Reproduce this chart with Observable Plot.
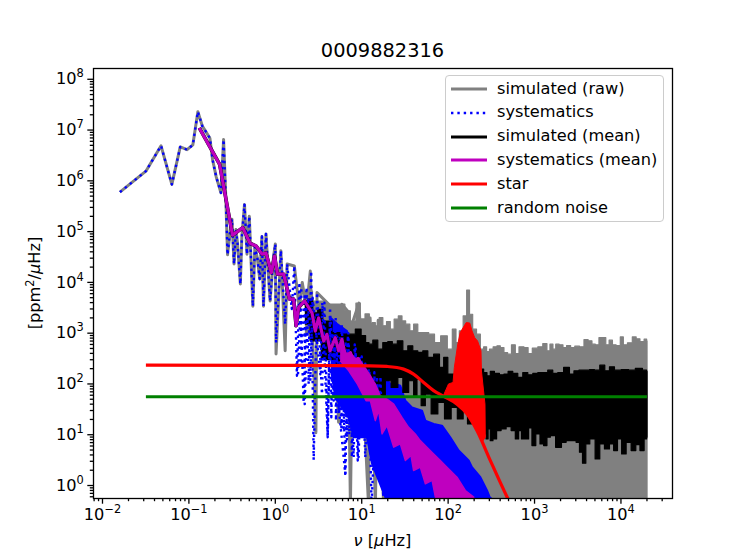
<!DOCTYPE html>
<html><head><meta charset="utf-8">
<script src="https://cdn.jsdelivr.net/npm/d3@7"></script>
<script src="https://cdn.jsdelivr.net/npm/@observablehq/plot@0.6"></script>
<style>
html,body{margin:0;padding:0;background:#fff}
#wrap{position:relative;width:747px;height:560px;font-family:"DejaVu Sans",sans-serif;color:#000;overflow:hidden}
#legend{position:absolute;left:445px;top:75px;width:219px;height:147px;box-sizing:border-box;background:rgba(255,255,255,.8);border:1.3px solid #ccc;border-radius:4px;font-size:16.2px}
#legend div{position:absolute;left:51px;white-space:nowrap;line-height:20px}
#legend svg{position:absolute;left:5px}
</style></head><body><div id="wrap"></div>
<script>
const title = "0009882316";
const xDecades = [1e-2,1e-1,1e0,1e1,1e2,1e3,1e4];
const xTickLabels = ["-2","-1","0","1","2","3","4"];
const yDecades = [1e0,1e1,1e2,1e3,1e4,1e5,1e6,1e7,1e8];
const yTickLabels = ["0","1","2","3","4","5","6","7","8"];

// low-frequency spectrum (raw and systematics coincide here)
const lowNu = [0.0159,0.0318,0.0476,0.0635,0.0794,0.0953,0.111,0.127,0.143,0.159,0.175,0.188,0.207,0.235,0.252,0.267,0.28,0.30,0.315,0.333,0.35,0.365,0.394,0.41,0.44,0.47,0.50,0.55,0.58,0.62,0.66,0.70,0.73,0.78,0.87,0.95,1.0];
const lowP  = [6e5,1.55e6,4.9e6,8.5e5,4.65e6,4.1e6,5.1e6,2.3e7,1.2e7,9e6,6.9e6,2.6e6,1.2e6,5.8e5,6.5e6,5e5,3.5e4,1e5,1.76e5,2.3e4,1.1e5,6e4,9.3e3,8e4,3.4e5,3.6e4,2e5,3.4e3,5e4,3e4,1.17e4,8e4,3.4e3,9e4,4.3e3,3e4,5.7e4];

// raw spikes above 1 µHz
const rawSpikeNu = [1.02,1.16,1.3,1.37,1.66,1.9,2.05,2.3,2.54,2.95,3.04,4.53,5.4,5.9,6.9,7.4,7.9,9.3,12,12.5,14.4,15.5,17.9,18.7];
const rawSpikeP  = [390,4.2e4,450,2.3e4,2.1e4,3e3,1e4,3e3,1.67e4,11,6.3e3,3.2e3,17.6,3.7e3,2.7e3,0.4,1.7e3,3.9e3,0.4,2e3,0.4,1.8e3,0.4,1.4e3];
// systematics spikes above 1 µHz
const sysSpikeNu = [1.02,1.16,1.3,1.37,1.55,1.66,1.78,1.9,2.13,2.3,2.43,2.6,2.78,3.04,3.47,3.7,4.04,4.3,4.7,5,5.4,5.9,6.45,7,7.7,8.3,9,9.5,10,11,13,14,15,16.5,17.9];
const sysSpikeP  = [650,4.2e4,1500,2.3e4,3e3,2.1e4,145,1e4,43,8e3,100,1.67e4,3.2,6.3e3,63,4e3,8.9,3.2e3,54,2e3,26,1500,1.7,1000,12,600,3.1,358,8.9,250,3.6,170,1.7,140,0.4];
const sysSpike2Nu = [1.83,2.0,1.98,2.2,2.19,2.4,2.54,2.7,3.32,3.5,4.04,4.3,6.45,6.9,8.07,8.5,9.2,10,11,12,13,15,18];
const sysSpike2P  = [155,8e3,288,6e3,40,5e3,115,5e3,155,4e3,8.9,2e3,1.7,900,3.6,500,3.6,350,3.6,200,0.4,140,0.4];
const sysSpike3Nu = [4.14,4.3,4.45,4.6,4.73,4.9,5.04,5.2,5.41,5.6,5.81,6,6.18,6.5,6.75,7,7.2,7.5,7.7,8];
const sysSpike3P  = [54,1000,22,1000,47,1000,19,900,35,800,14,800,12,700,7.7,500,10,400,3.6,350];

// raw upper edge, read as log10 of frequency and power
const rawHiLogNu = [0.342,0.519,0.656,0.771,0.839,0.898,0.968,1.0,1.076,1.10,1.138,1.177,1.227,1.262,1.312,1.35,1.4,1.447,1.485,1.532,1.582,1.62,1.678,1.736,1.814,1.871,1.956,2.025,2.072,2.11,2.149,2.199,2.23,2.265,2.303,2.354,2.392,2.43,2.461,2.496,2.546,2.584,2.623,2.669,2.708,2.758,2.797,2.843,2.912,2.939,3.009,3.067,3.124,3.163,3.194,3.232,3.259,3.31,3.348,3.394,3.441,3.491,3.549,3.595,3.645,3.684,3.722,3.769,3.811,3.838,3.888,3.915,3.973,4.012,4.043,4.108,4.155,4.197,4.243,4.293,4.302];
const rawHiLogP  = [3.83,3.63,3.575,3.575,3.44,3.24,3.59,3.28,3.38,3.19,3.209,3.144,3.308,3.144,3.229,3.078,3.275,3.34,3.242,3.177,3.046,3.177,3.013,3.013,2.98,2.816,2.947,2.685,3.078,2.816,3.046,3.34,3.85,3.373,3.078,2.98,2.685,2.731,2.639,2.685,2.731,2.75,2.718,2.619,2.587,2.77,2.6,2.731,2.718,2.6,2.705,2.731,2.796,2.652,2.783,2.685,2.783,2.77,2.718,2.757,2.718,2.744,2.731,2.875,2.849,2.783,2.77,2.914,2.914,2.77,2.862,2.77,2.757,2.927,2.77,2.809,2.927,2.888,2.835,2.881,2.85];
const rawLoLogNu = [0.342,0.778,0.954,1.146,1.255,1.342,4.302];
const rawLoLogP  = [3,2.48,2.18,1.3,0.48,-0.4,-0.4];

// simulated-mean edges
const meanHiLogNu = [0.342,0.405,0.462,0.519,0.58,0.733,0.81,0.888,0.964,1.022,1.068,1.10,1.157,1.215,1.273,1.331,1.377,1.447,1.505,1.562,1.62,1.678,1.736,1.794,1.871,1.929,1.968,2.025,2.392,2.43,2.469,2.507,2.565,2.623,2.669,2.719,2.777,2.835,2.893,2.951,3.009,3.067,3.124,3.182,3.24,3.298,3.375,3.433,3.479,3.549,3.607,3.665,3.722,3.788,3.838,3.896,3.954,4.05,4.128,4.205,4.293,4.302];
const meanHiLogP  = [3.63,3.67,3.4,3.47,3.24,3.01,2.98,2.98,3.08,2.95,2.815,2.784,2.862,2.685,2.816,2.836,2.784,2.849,2.653,2.751,2.653,2.62,2.653,2.522,2.587,2.325,2.522,2.194,2.293,2.226,2.161,2.246,2.207,2.181,2.194,2.246,2.207,2.128,2.226,2.181,2.207,2.226,2.226,2.272,2.207,2.226,2.325,2.194,2.259,2.272,2.272,2.285,2.272,2.37,2.259,2.338,2.272,2.285,2.272,2.305,2.272,2.25];
const meanLoLogNu = [0.342,0.462,0.6,0.77,0.9,0.96,1.07,1.15,1.254,1.292,1.389,1.447,1.505,1.582,1.62,1.659,1.717,1.755,1.852,1.91,2.006,2.064,2.149,2.199,2.249,2.296,2.43,2.449,2.476,2.499,2.538,2.584,2.642,2.7,2.758,2.797,2.835,2.862,2.912,2.951,2.989,3.04,3.086,3.124,3.163,3.202,3.286,3.337,3.394,3.452,3.51,3.53,3.58,3.607,3.672,3.73,3.78,3.838,3.896,3.935,3.985,4.031,4.089,4.147,4.197,4.243,4.293,4.302];
const meanLoLogP  = [3.18,2.85,2.48,2.4,2.48,2.4,2.25,2.0,1.769,2.063,1.932,2.129,1.834,2.063,1.769,2.096,1.572,1.801,1.408,1.638,1.31,1.539,1.31,1.474,1.212,1.408,1.015,0.917,1.113,0.884,0.917,1.081,1.113,1.159,1.081,0.917,1.081,0.917,0.917,1.133,0.786,1.015,0.819,0.786,0.95,0.982,0.753,0.851,0.884,0.884,0.851,0.655,0.439,0.819,0.917,0.524,0.819,0.72,0.819,0.688,0.917,0.622,0.851,0.688,0.806,0.688,0.917,0.95];

// systematics band edges
const sysHiLogNu = [0.643,0.70,0.83,0.87,0.914,0.96,1.004,1.053,1.119,1.177,1.235,1.292,1.331,1.389,1.447,1.505,1.582,1.698,1.736,1.833,1.929,2.025,2.122,2.238,2.276,2.373,2.45,2.481,2.6];
const sysHiLogP  = [3.3,3.2,3.04,2.75,2.89,2.55,2.65,2.38,2.325,2.292,2.063,2.096,1.998,1.998,1.965,1.67,1.539,1.474,1.277,1.212,1.179,0.95,0.688,0.492,0.361,0.164,-0.098,-0.229,-0.4];
const sysLoLogNu = [0.643,0.694,0.849,0.907,1.06,1.12,1.273,1.33,2.6];
const sysLoLogP  = [2.3,1.736,1.343,0.95,0.95,0.426,-0.23,-0.4,-0.4];

// systematics-mean band edges
const sysBandHiLogNu = [0.75,0.82,0.87,0.924,0.96,1.10,1.157,1.215,1.292,1.37,1.466,1.543,1.62,1.678,1.755,1.833,1.91,1.987,2.103,2.199,2.296];
const sysBandHiLogP  = [2.85,2.6,2.62,2.5,2.52,2.162,1.998,1.769,1.703,1.605,1.343,1.146,1.015,0.885,0.754,0.623,0.492,0.361,0.164,-0.098,-0.229];
const sysBandLoLogNu = [0.75,0.85,0.95,1.05,1.10,1.157,1.196,1.235,1.292,1.37,1.447,1.505,1.57,1.6,1.678,1.736,1.814,1.852,1.929,2.296];
const sysBandLoLogP  = [2.456,2.26,1.998,1.67,1.67,1.277,1.474,1.015,1.179,0.754,0.819,0.492,0.59,0.295,0.361,0.033,0.099,-0.229,-0.4,-0.4];

// systematics mean, low frequencies
const sysMeanNu = [0.132,0.227,0.32,0.42,0.51,0.6,0.7,0.78,0.9,0.98,1.06,1.25,1.46,1.63,1.74,1.86,2.18,2.66,2.9,3.17,3.63,3.96,4.3,4.94,5.4,5.9,6.6,7.4,8.4,9.2];
const sysMeanP  = [1.1e7,2.1e6,8.5e4,1.2e5,5.9e4,5.2e4,3.6e4,3.8e4,1.55e4,3.3e4,1.45e4,1.45e4,4.7e3,4.7e3,1.4e3,3.2e3,4.3e3,2.5e3,1.1e3,2e3,700,950,450,815,450,760,310,415,180,330];

// star background
const starNu = [0.0318,1,12.6,19.6,30.5,39.8,52,68,89,127,166,216,308,484,560];
const starP  = [235,232,228,221,196,156,107,74,57,40,25.6,12,3.1,0.58,0.35];
// star oscillation hump
const humpNu = [89,95,101,114,118,129,138,162,178,189,203,219,240,243,257,267,269];
const humpP  = [61,79,100,107,211,590,1030,1620,1580,1110,815,705,450,180,73,40,8.9];
const humpBackNu = [255,216,166,127,89];
const humpBackP  = [7.7,12,25.6,40,57];
// noise
const noiseNu = [0.0318,20000];
const noiseP  = [56,56];

const pts = (a,b)=>a.map((x,i)=>({x,y:b[i]}));
const lg10 = (a,b)=>a.map((x,i)=>({x:10**x,y:10**b[i]}));
const bandLog = (nh,ph,nl,pl)=>lg10(nh,ph).concat(lg10(nl,pl).reverse());
const xMinor = xDecades.concat([1e-3,1e5]).flatMap(d=>[2,3,4,5,6,7,8,9].map(k=>k*d)).filter(v=>v>0.00787&&v<39500);
const yMinor = [1e-1].concat(yDecades).flatMap(d=>[2,3,4,5,6,7,8,9].map(k=>k*d)).filter(v=>v>0.555&&v<1.63e8);

const ls={clip:true,strokeLinecap:"butt",strokeLinejoin:"round"};
const gray="#808080", blue="#0000ff", magenta="#bf00bf", red="#ff0000", green="#008000";
const dots="2.4 3.96";
const axisCommon={tickSize:5.7,tickPadding:4,fontSize:16.2,strokeWidth:1.3,label:null};
const dotted={x:"x",y:"y",stroke:blue,strokeWidth:2.4,strokeDasharray:dots,...ls};

const chart = Plot.plot({
  width:747,height:560,marginLeft:93,marginRight:75,marginTop:68,marginBottom:62,
  style:{fontFamily:"DejaVu Sans",color:"#000",background:"#fff"},
  x:{type:"log",domain:[0.00787,39500],axis:null},
  y:{type:"log",domain:[0.555,1.63e8],axis:null},
  marks:[
    Plot.line(bandLog(rawHiLogNu,rawHiLogP,rawLoLogNu,rawLoLogP),{x:"x",y:"y",fill:gray,stroke:gray,strokeWidth:1.2,curve:"step",...ls}),
    Plot.line(pts(lowNu.concat(rawSpikeNu),lowP.concat(rawSpikeP)),{x:"x",y:"y",stroke:gray,strokeWidth:3,...ls}),
    Plot.line(bandLog(sysHiLogNu,sysHiLogP,sysLoLogNu,sysLoLogP),{x:"x",y:"y",fill:blue,stroke:blue,strokeWidth:2,...ls}),
    Plot.line(bandLog(meanHiLogNu,meanHiLogP,meanLoLogNu,meanLoLogP),{x:"x",y:"y",fill:"#000",stroke:"#000",strokeWidth:1.2,curve:"step",...ls}),
    Plot.line(pts(lowNu.concat(sysSpikeNu),lowP.concat(sysSpikeP)),dotted),
    Plot.line(pts(sysSpike2Nu,sysSpike2P),dotted),
    Plot.line(pts(sysSpike3Nu,sysSpike3P),dotted),
    Plot.line(pts(sysMeanNu,sysMeanP),{x:"x",y:"y",stroke:"#000",strokeWidth:3.6,...ls}),
    Plot.line(bandLog(sysBandHiLogNu,sysBandHiLogP,sysBandLoLogNu,sysBandLoLogP),{x:"x",y:"y",fill:magenta,stroke:magenta,strokeWidth:1.4,...ls}),
    Plot.line(pts(sysMeanNu,sysMeanP),{x:"x",y:"y",stroke:magenta,strokeWidth:3.2,...ls}),
    Plot.line(pts(humpNu.concat(humpBackNu),humpP.concat(humpBackP)),{x:"x",y:"y",fill:red,stroke:red,strokeWidth:1,...ls}),
    Plot.line(pts(starNu,starP),{x:"x",y:"y",stroke:red,strokeWidth:3.2,curve:"monotone-x",...ls}),
    Plot.line(pts(noiseNu,noiseP),{x:"x",y:"y",stroke:green,strokeWidth:3.2,...ls}),
    Plot.frame({stroke:"#000",strokeWidth:1.3}),
    Plot.axisX({...axisCommon,ticks:xDecades,tickFormat:d=>"10^"+xTickLabels[xDecades.indexOf(d)]}),
    Plot.axisX({...axisCommon,ticks:xMinor,tickSize:3.2,tickFormat:()=>""}),
    Plot.axisY({...axisCommon,ticks:yDecades,tickFormat:d=>"10^"+yTickLabels[yDecades.indexOf(d)]}),
    Plot.axisY({...axisCommon,ticks:yMinor,tickSize:3.2,tickFormat:()=>""})
  ]
});
const wrap=document.getElementById("wrap");
wrap.appendChild(chart);
const svg=d3.select(chart);
// true superscripts on the decade tick labels
svg.selectAll("text").each(function(){
  const t=this.textContent;
  if(!t.startsWith("10^")) return;
  const e=t.slice(3).replace("-","−");
  const n=d3.select(this); n.text("10");
  n.append("tspan").attr("font-size",11.4).attr("dy","-0.62em").text(e);
});
svg.append("text").attr("x",382.5).attr("y",57).attr("text-anchor","middle").attr("font-size",19.4).attr("fill","#000").text(title);
const xl=svg.append("text").attr("x",382.5).attr("y",546).attr("text-anchor","middle").attr("font-size",16.2).attr("fill","#000");
xl.append("tspan").attr("font-style","italic").text("ν");
xl.append("tspan").text(" [");
xl.append("tspan").attr("font-style","italic").text("μ");
xl.append("tspan").text("Hz]");
const yl=svg.append("text").attr("transform","translate(40,283) rotate(-90)").attr("text-anchor","middle").attr("font-size",16.2).attr("fill","#000");
yl.append("tspan").text("[ppm");
yl.append("tspan").attr("font-size",11.4).attr("dy",-6.5).text("2");
yl.append("tspan").attr("dy",6.5).text("/");
yl.append("tspan").attr("font-style","italic").text("μ");
yl.append("tspan").text("Hz]");

const legendItems=[["simulated (raw)",gray,""],["systematics",blue,dots],["simulated (mean)","#000",""],["systematics (mean)",magenta,""],["star",red,""],["random noise",green,""]];
const lg=document.createElement("div");lg.id="legend";
legendItems.forEach(([t,c,d],i)=>{
  const cy=13+i*23.8;
  const s=document.createElementNS("http://www.w3.org/2000/svg","svg");
  s.setAttribute("width",36);s.setAttribute("height",6);s.style.top=(cy-3)+"px";
  s.innerHTML=`<line x1="0" x2="36" y1="3" y2="3" stroke="${c}" stroke-width="${d?2.4:3.2}" ${d?`stroke-dasharray="${d}"`:""}/>`;
  lg.appendChild(s);
  const e=document.createElement("div");e.textContent=t;e.style.top=(cy-10.5)+"px";lg.appendChild(e);
});
wrap.appendChild(lg);
</script></body></html>
